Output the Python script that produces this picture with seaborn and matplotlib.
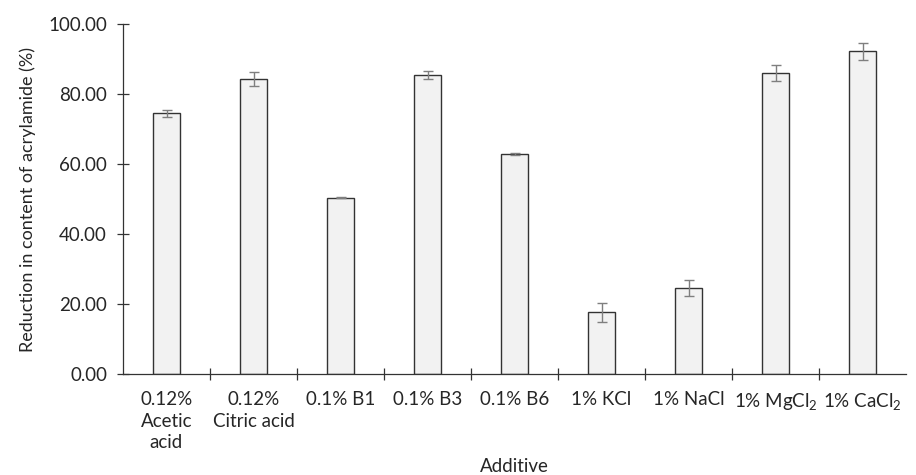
import matplotlib
matplotlib.use("Agg")
import matplotlib.pyplot as plt
import seaborn as sns
import pandas as pd
from matplotlib.ticker import FormatStrFormatter, FixedLocator

categories = ["0.12%\nAcetic\nacid", "0.12%\nCitric acid", "0.1% B1", "0.1% B3", "0.1% B6",
              "1% KCl", "1% NaCl", "1% MgCl$_2$", "1% CaCl$_2$"]
values = [74.5, 84.2, 50.4, 85.5, 62.8, 17.6, 24.6, 86.1, 92.2]
errors = [1.0, 2.0, 0.2, 1.2, 0.3, 2.7, 2.4, 2.3, 2.5]

sns.set_style("white")
plt.rcParams["font.family"] = ["Lato", "DejaVu Sans"]
plt.rcParams["mathtext.fontset"] = "custom"
plt.rcParams["mathtext.rm"] = "Lato"
plt.rcParams["mathtext.it"] = "Lato:italic"
plt.rcParams["mathtext.bf"] = "Lato:bold"
plt.rcParams["mathtext.default"] = "rm"

df = pd.DataFrame({"cat": categories, "val": values})

fig = plt.figure(figsize=(9.16, 4.75), dpi=100)
ax = fig.add_axes([123/916, 1-374/475, (906-123)/916, (374-24)/475])

sns.barplot(data=df, x="cat", y="val", ax=ax, color="#f2f2f2", width=0.32,
            edgecolor="#333333", linewidth=1.0, errorbar=None, saturation=1)
ax.errorbar(range(len(values)), values, yerr=errors, fmt="none",
            ecolor="#7f7f7f", elinewidth=1.0, capsize=3.5, capthick=1.0)

ax.set_xlim(-0.5, len(values) - 0.5)
ax.set_ylim(0, 100)
ax.set_yticks([0, 20, 40, 60, 80, 100])
ax.yaxis.set_major_formatter(FormatStrFormatter("%.2f"))

ax.xaxis.set_minor_locator(FixedLocator([i + 0.5 for i in range(len(values) - 1)]))
ax.tick_params(axis="x", which="major", length=0, pad=12, labelsize=13.5, colors="#262626")
ax.tick_params(axis="x", which="minor", length=9, direction="inout", width=0.9, color="#333333", bottom=True)
ax.tick_params(axis="y", which="major", length=9, direction="inout", width=0.9, color="#333333",
               labelsize=13.5, labelcolor="#262626", pad=7, left=True)
for lab in ax.get_xticklabels():
    lab.set_linespacing(1.35)
    lab.set_verticalalignment("top")

for s in ["top", "right"]:
    ax.spines[s].set_visible(False)
for s in ["left", "bottom"]:
    ax.spines[s].set_color("#333333")
    ax.spines[s].set_linewidth(0.9)

ax.set_xlabel("Additive", fontsize=13.5, color="#262626", labelpad=5)
ax.set_ylabel("Reduction in content of acrylamide (%)", fontsize=13, color="#262626", labelpad=9)

fig.savefig("out.png", dpi=100)
